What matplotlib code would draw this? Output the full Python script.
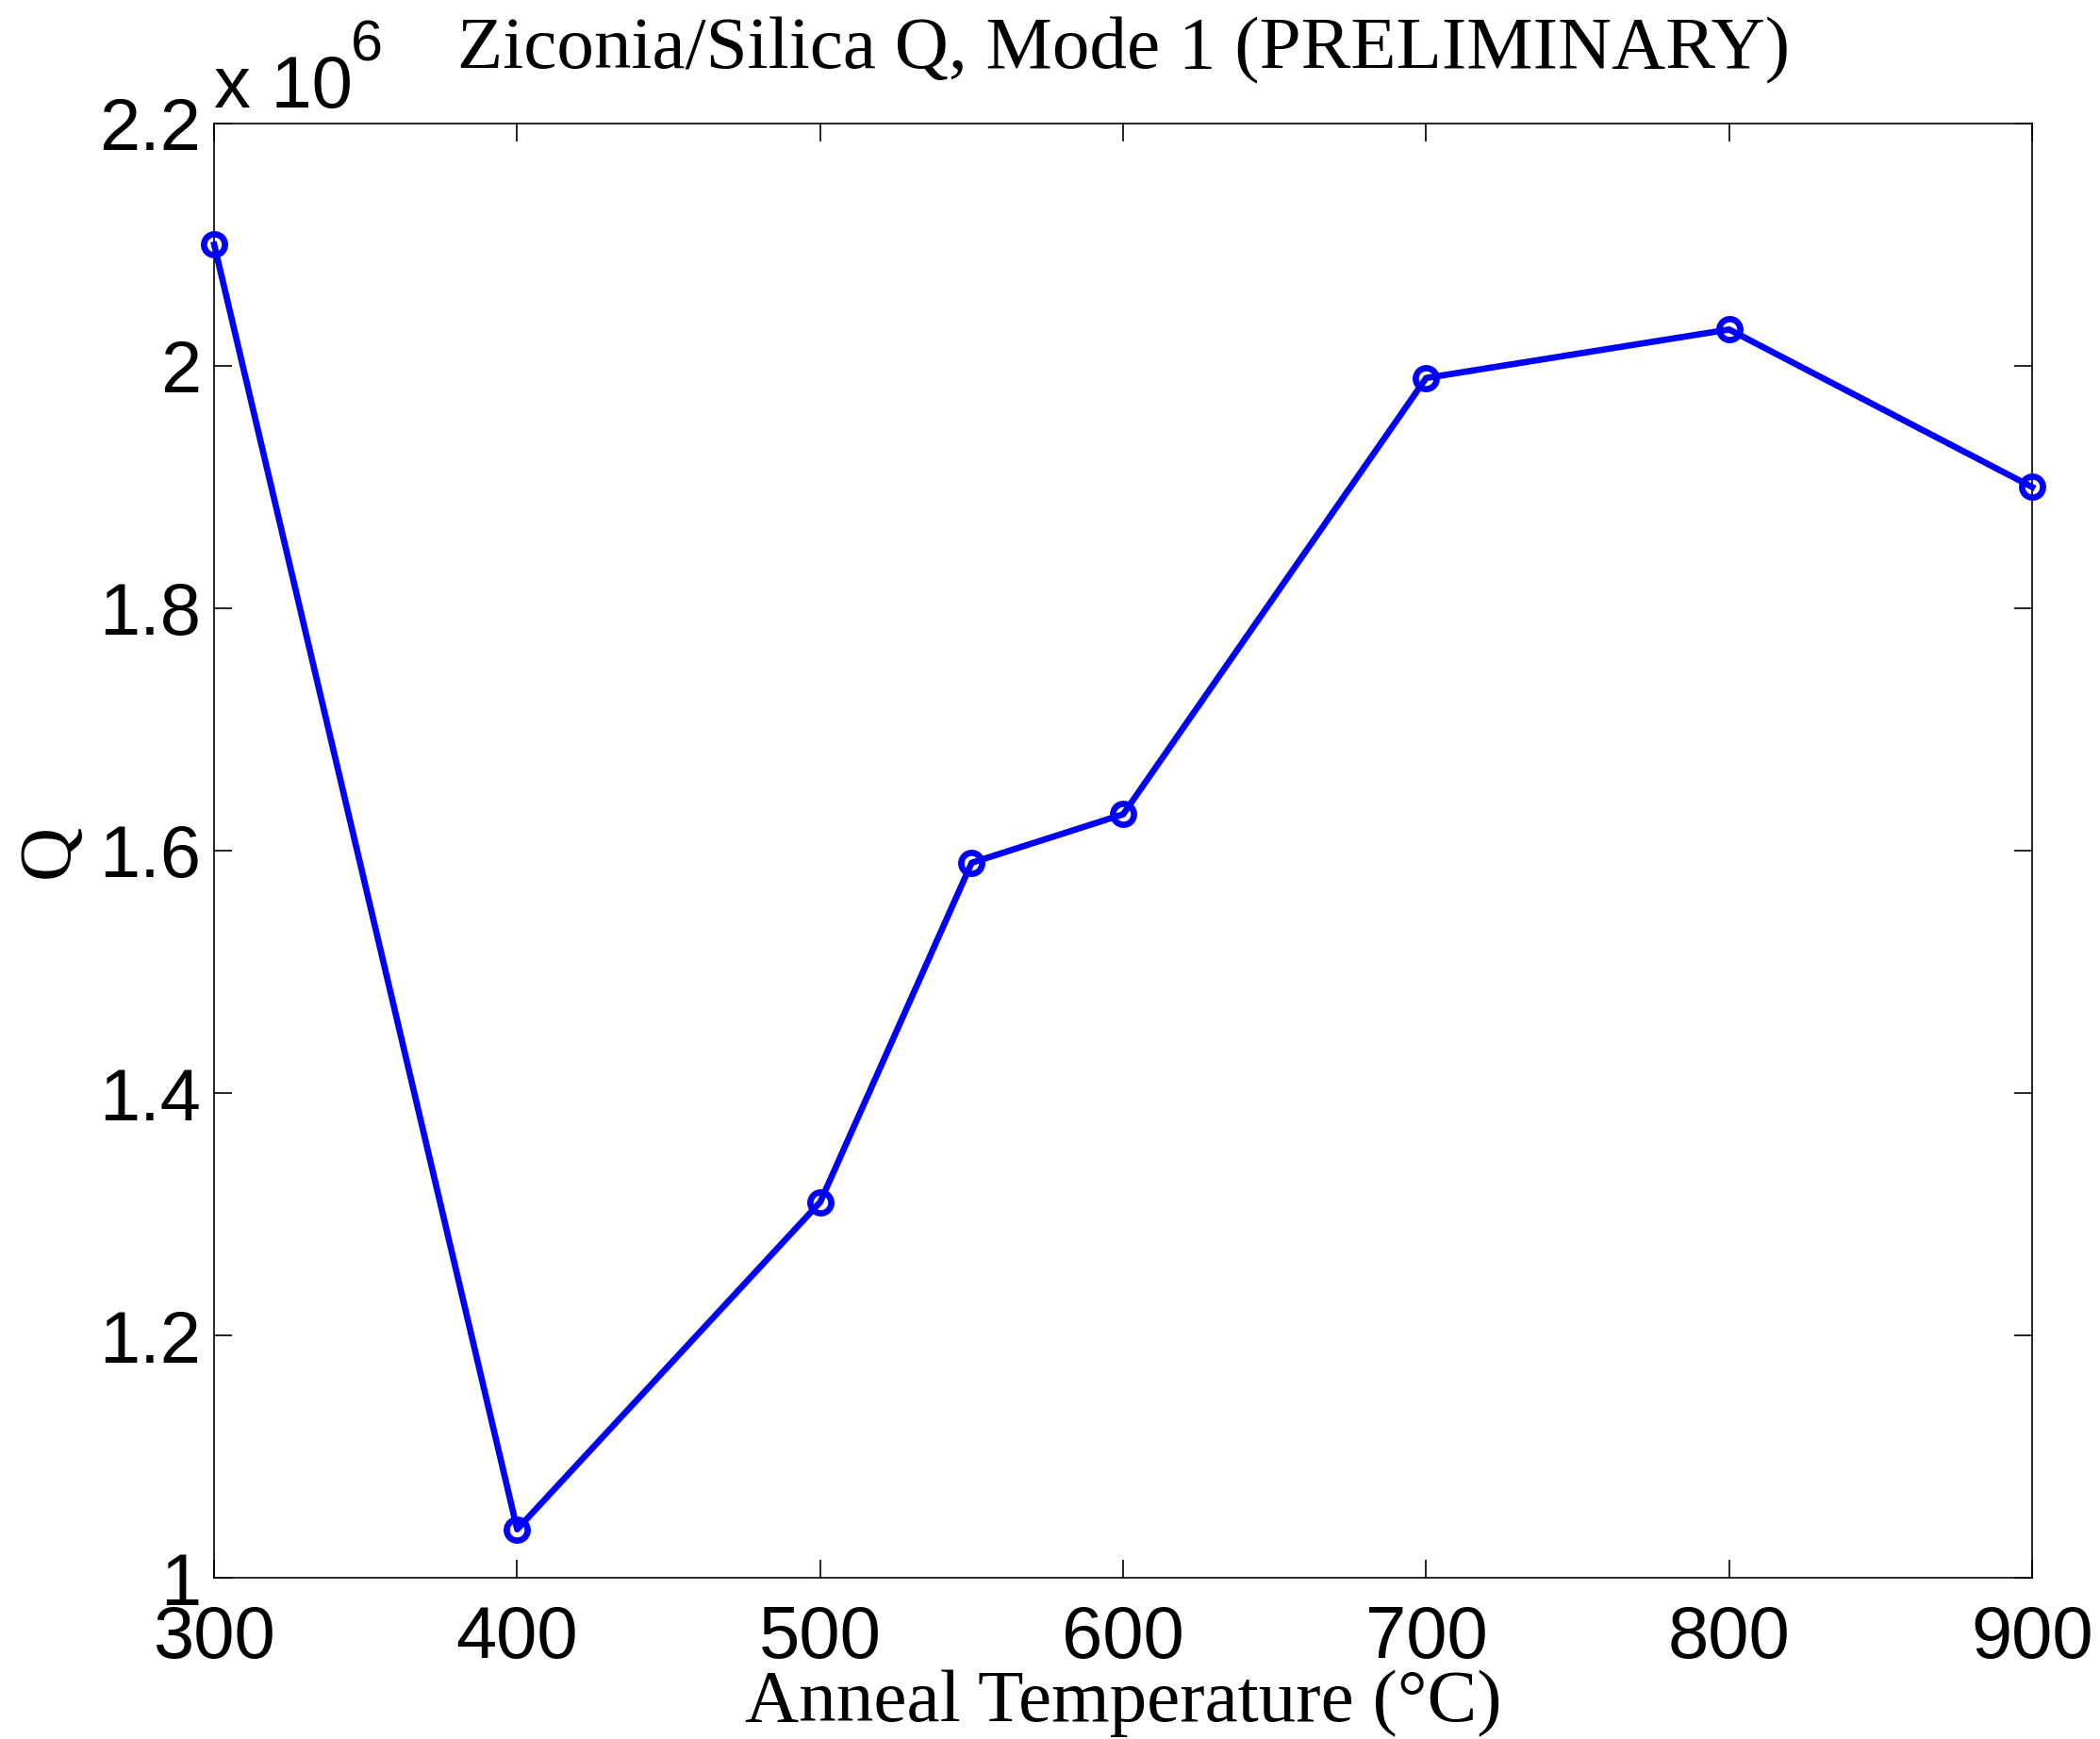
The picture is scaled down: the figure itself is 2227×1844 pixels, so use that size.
"""
Zirconia/silica coating Q versus anneal temperature, mode 1 (preliminary).
"""

import matplotlib
matplotlib.use('Agg')
import matplotlib.pyplot as plt
from matplotlib.ticker import FuncFormatter

# Data
# -----------------------------------------------------------------------------

temp = [300, 400, 500, 550, 600, 700, 800, 900]
q = [2.10e6, 1.04e6, 1.31e6, 1.59e6, 1.63e6, 1.99e6, 2.03e6, 1.90e6]

xticks = [300, 400, 500, 600, 700, 800, 900]
yticks = [1.0e6, 1.2e6, 1.4e6, 1.6e6, 1.8e6, 2.0e6, 2.2e6]

# Plot
# -----------------------------------------------------------------------------

plt.rcParams['font.family'] = 'Liberation Sans'

serif = 'Liberation Serif'

fig = plt.figure(figsize=(11.135, 9.22), dpi=200)
ax = fig.add_axes([0.102, 0.0927, 0.8657, 0.8363])

ax.plot(temp, q, color='#0000ff', lw=2.4, marker='o', ms=8,
        mfc='none', mec='#0000ff', mew=2.4, clip_on=False, zorder=3)

ax.set_xlim(300, 900)
ax.set_ylim(1.0e6, 2.2e6)
ax.set_xticks(xticks)
ax.set_yticks(yticks)
ax.yaxis.set_major_formatter(FuncFormatter(lambda v, p: '%g' % (v / 1e6)))

ax.tick_params(direction='in', length=7, width=0.6, labelsize=28,
               top=True, right=True)
ax.tick_params(axis='x', pad=10)
ax.tick_params(axis='y', pad=5)
for s in ax.spines.values():
    s.set_linewidth(0.6)

# MATLAB-style exponent above the y axis
ax.text(0.0, 1.011, 'x 10', transform=ax.transAxes,
        ha='left', va='baseline', fontsize=28)
ax.text(0.075, 1.043, '6', transform=ax.transAxes,
        ha='left', va='baseline', fontsize=22)

ax.set_title('Ziconia/Silica Q, Mode 1 (PRELIMINARY)', family=serif,
             fontsize=28.5, pad=21)
ax.set_xlabel('Anneal Temperature (°C)', family=serif, fontsize=28.5)
ax.xaxis.set_label_coords(0.5, -0.063)
ax.set_ylabel('Q', family=serif, fontsize=28.5)
ax.yaxis.set_label_coords(-0.072, 0.5)

fig.savefig('out.png', dpi=200)
